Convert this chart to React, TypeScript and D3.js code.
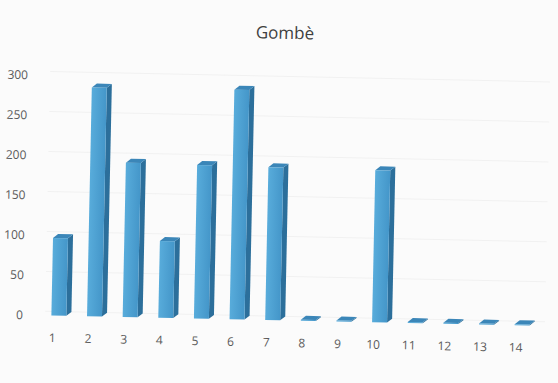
import React from "react";
import * as d3 from "d3";

const categories: string[] = ["1","2","3","4","5","6","7","8","9","10","11","12","13","14"];
const values: number[] = [97, 286, 193, 96, 192, 287, 191, 0, 0, 190, 0, 0, 0, 0];
const yTicks: number[] = [0, 50, 100, 150, 200, 250, 300];
const title = "Gombè";

const W = 558;
const H = 383;

export default function App() {
  const x = d3.scaleBand<string>().domain(categories).range([41, 540]).padding(0);
  const y = d3.scaleLinear().domain([0, 300]).range([320.5, 80.5]);
  const bw = x.bandwidth() * 0.42;
  const dx = 5; // depth offset x
  const dy = 4; // depth offset y
  const font = "'Open Sans', 'DejaVu Sans', sans-serif";

  return (
    <svg
      width={W}
      height={H}
      viewBox={`0 0 ${W} ${H}`}
      style={{ position: "fixed", left: 0, top: 0, background: "#fbfbfb" }}
    >
      <defs>
        <linearGradient id="front" x1="0" x2="1" y1="0" y2="0">
          <stop offset="0" stopColor="#58acdb" />
          <stop offset="1" stopColor="#4496c9" />
        </linearGradient>
      </defs>
      <rect width={W} height={H} fill="#fbfbfb" />
      <g transform="rotate(1.2 290 320)">
        <text
          x={279}
          y={39}
          textAnchor="middle"
          fontFamily={font}
          fontSize={17}
          fill="#404040"
        >
          {title}
        </text>
        {yTicks.map((t) => (
          <g key={t}>
            <line
              x1={40 + dx}
              x2={545}
              y1={y(t) - dy}
              y2={y(t) - dy}
              stroke="#f1f1f1"
              strokeWidth={1}
            />
            <text
              x={23}
              y={y(t)}
              dy="0.35em"
              textAnchor="end"
              fontFamily={font}
              fontSize={12}
              fill="#5a5a5a"
            >
              {t}
            </text>
          </g>
        ))}
        {categories.map((c, i) => {
          const cx = (x(c) as number) + x.bandwidth() / 2;
          const x0 = cx - bw / 2;
          const x1 = cx + bw / 2;
          const y0 = y(0);
          const yv = Math.min(y(values[i]), y0 - 1);
          const top = `M${x0},${yv} L${x0 + dx},${yv - dy} L${x1 + dx},${yv - dy} L${x1},${yv} Z`;
          const side = `M${x1},${yv} L${x1 + dx},${yv - dy} L${x1 + dx},${y0 - dy} L${x1},${y0} Z`;
          return (
            <g key={c}>
              <path d={side} fill="#2c6f9b" />
              <path d={top} fill="#3b86b8" />
              <rect x={x0} y={yv} width={bw} height={y0 - yv} fill="url(#front)" />
              <text
                x={cx - 6}
                y={347}
                textAnchor="middle"
                fontFamily={font}
                fontSize={12}
                fill="#5a5a5a"
              >
                {c}
              </text>
            </g>
          );
        })}
      </g>
    </svg>
  );
}
